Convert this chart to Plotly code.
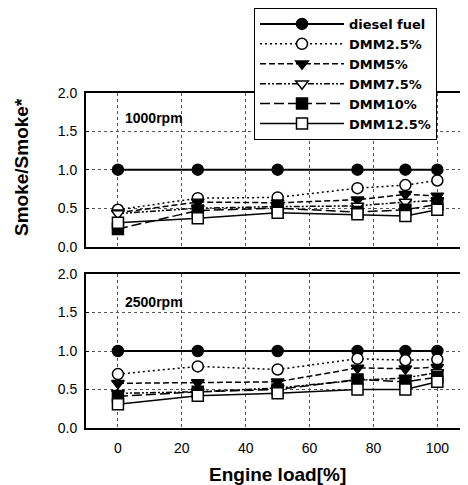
import plotly.graph_objects as go
from plotly.subplots import make_subplots

load = [0, 25, 50, 75, 90, 100]
series_names = ["diesel fuel", "DMM2.5%", "DMM5%", "DMM7.5%", "DMM10%", "DMM12.5%"]

rpm1000 = {
    "diesel fuel": [1.0, 1.0, 1.0, 1.0, 1.0, 1.0],
    "DMM2.5%": [0.48, 0.63, 0.64, 0.76, 0.80, 0.86],
    "DMM5%": [0.44, 0.58, 0.57, 0.61, 0.68, 0.66],
    "DMM7.5%": [0.43, 0.50, 0.52, 0.53, 0.58, 0.60],
    "DMM10%": [0.23, 0.47, 0.50, 0.45, 0.48, 0.55],
    "DMM12.5%": [0.31, 0.37, 0.44, 0.42, 0.40, 0.48],
}
rpm2500 = {
    "diesel fuel": [1.0, 1.0, 1.0, 1.0, 1.0, 1.0],
    "DMM2.5%": [0.70, 0.80, 0.76, 0.90, 0.88, 0.89],
    "DMM5%": [0.58, 0.59, 0.60, 0.78, 0.77, 0.79],
    "DMM7.5%": [0.45, 0.47, 0.52, 0.62, 0.65, 0.72],
    "DMM10%": [0.41, 0.47, 0.50, 0.63, 0.60, 0.66],
    "DMM12.5%": [0.31, 0.42, 0.45, 0.50, 0.50, 0.60],
}

x_ticks = [0, 20, 40, 60, 80, 100]
y_ticks = [0.0, 0.5, 1.0, 1.5, 2.0]

styles = {
    "diesel fuel": dict(symbol="circle", fill="black", dash="solid", width=2),
    "DMM2.5%": dict(symbol="circle", fill="white", dash="2px,3px", width=1.5),
    "DMM5%": dict(symbol="triangle-down", fill="black", dash="6px,3px", width=1.5),
    "DMM7.5%": dict(symbol="triangle-down", fill="white", dash="6px,2px,2px,2px,2px,2px", width=1.5),
    "DMM10%": dict(symbol="square", fill="black", dash="10px,4px", width=1.5),
    "DMM12.5%": dict(symbol="square", fill="white", dash="solid", width=1.5),
}

fig = make_subplots(rows=2, cols=1, shared_xaxes=True)

for row, data in ((1, rpm1000), (2, rpm2500)):
    for name in series_names:
        s = styles[name]
        fig.add_trace(go.Scatter(
            x=load, y=data[name], mode="lines+markers", name=name,
            showlegend=(row == 1),
            line=dict(color="black", width=s["width"], dash=s["dash"]),
            marker=dict(symbol=s["symbol"], size=11, color=s["fill"],
                        line=dict(color="black", width=1.5)),
        ), row=row, col=1)

# page body has an 8px margin; work in window pixels
OFF = 8
W, H = 468 - OFF, 485 - OFF


def px(x):
    return (x - OFF) / W


def py(y):
    return 1 - (y - OFF) / H


xdom = [px(86), 1.0]
top_dom = [py(246.7), py(92.7)]
bot_dom = [py(428), py(274)]

tickfont = dict(family="Liberation Sans, Arial, sans-serif", size=14, color="black")
grid = dict(showgrid=True, gridcolor="#555555", gridwidth=1, griddash="dot")

common_x = dict(range=[-10, 109.6], tickvals=x_ticks, domain=xdom, showline=True,
                linecolor="black", linewidth=2, mirror=True, zeroline=False,
                tickfont=tickfont, automargin=False, ticks="", **grid)
common_y = dict(range=[0, 2.0], tickvals=y_ticks, tickformat=".1f", showline=True,
                linecolor="black", linewidth=2, mirror=False, zeroline=False,
                tickfont=tickfont, automargin=False, ticks="inside", ticklen=3,
                tickcolor="black", ticklabelstandoff=4, **grid)

fig.update_layout(
    width=W, height=H,
    margin=dict(l=0, r=0, t=0, b=0),
    paper_bgcolor="white", plot_bgcolor="white",
    xaxis=dict(common_x, showticklabels=False),
    xaxis2=dict(common_x, showticklabels=True, ticklabelstandoff=6),
    yaxis=dict(common_y, domain=top_dom),
    yaxis2=dict(common_y, domain=bot_dom),
    legend=dict(x=px(254), y=1.0, xanchor="left", yanchor="top",
                bgcolor="white", bordercolor="black", borderwidth=1,
                itemwidth=84,
                font=dict(family="DejaVu Sans, sans-serif", size=13, color="black",
                          weight="bold")),
    font=dict(family="Liberation Sans, Arial, sans-serif", color="black"),
)

title_font = dict(family="Liberation Sans, Arial, sans-serif", size=19, color="black",
                  weight="bold")
fig.add_annotation(text="Engine load[%]", xref="x2", yref="paper", x=50, y=py(474),
                   showarrow=False, font=title_font, xanchor="center", yanchor="middle")
fig.add_annotation(text="Smoke/Smoke*", xref="paper", yref="paper", x=px(22), y=py(167),
                   showarrow=False, font=title_font, textangle=-90,
                   xanchor="center", yanchor="middle")
lab_font = dict(family="Liberation Sans, Arial, sans-serif", size=14, color="black",
                weight="bold")
fig.add_annotation(text="1000rpm", xref="x", yref="y", x=1.5, y=1.67, showarrow=False,
                   font=lab_font, xanchor="left", yanchor="middle")
fig.add_annotation(text="2500rpm", xref="x2", yref="y2", x=1.5, y=1.63, showarrow=False,
                   font=lab_font, xanchor="left", yanchor="middle")

fig.write_html("out.html")
